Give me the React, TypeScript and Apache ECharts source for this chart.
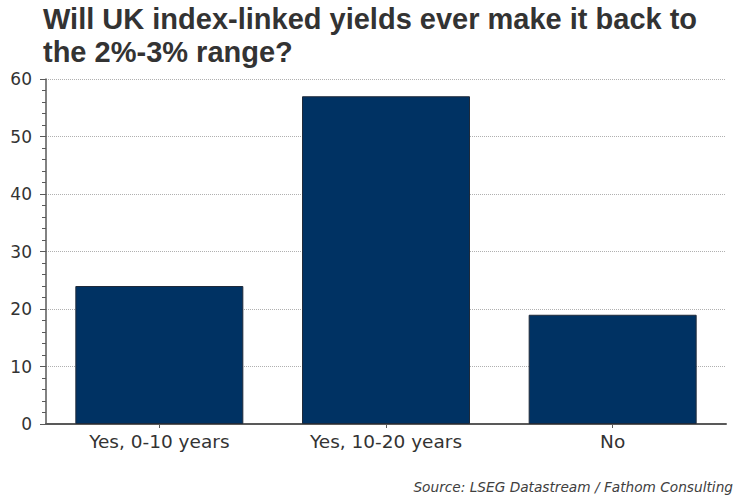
import React, { useEffect, useRef } from "react";
import * as echarts from "echarts";

const categories = ["Yes, 0-10 years", "Yes, 10-20 years", "No"];
const values = [24, 57, 19];
const titleLines = ["Will UK index-linked yields ever make it back to", "the 2%-3% range?"];
const sourceText = "Source: LSEG Datastream / Fathom Consulting";

export default function App() {
  const ref = useRef<HTMLDivElement>(null);
  useEffect(() => {
    if (!ref.current) return;
    const chart = echarts.init(ref.current, null, { renderer: "svg" });
    chart.setOption({
      animation: false,
      backgroundColor: "#ffffff",
      graphic: [
        {
          type: "text",
          left: 43,
          top: 2,
          style: {
            text: titleLines.join("\n"),
            font: "bold 29px 'Liberation Sans', Arial, sans-serif",
            fill: "#333333",
            lineHeight: 33,
          },
        },
        {
          type: "text",
          right: 17,
          top: 480,
          style: {
            text: sourceText,
            font: "italic 13.7px 'DejaVu Sans', sans-serif",
            fill: "#404040",
          },
        },
      ],
      grid: { left: 46, right: 24, top: 79, bottom: 76 },
      xAxis: {
        type: "category",
        data: categories,
        axisLine: { show: true, lineStyle: { color: "#595959", width: 2 } },
        axisTick: { show: true, alignWithLabel: true, length: 4, lineStyle: { color: "#595959" } },
        axisLabel: { color: "#333333", fontSize: 18.5, fontFamily: "'DejaVu Sans', sans-serif", margin: 8 },
      },
      yAxis: {
        type: "value",
        min: 0,
        max: 60,
        interval: 10,
        axisLine: { show: true, lineStyle: { color: "#595959", width: 1.5 } },
        axisTick: { show: true, inside: false, length: 6, lineStyle: { color: "#595959" } },
        minorTick: { show: true, splitNumber: 5, length: 4, lineStyle: { color: "#595959" } },
        splitLine: { show: true, lineStyle: { color: "#b0b0b0", type: "dotted", width: 1 } },
        axisLabel: { color: "#333333", fontSize: 17, fontFamily: "'DejaVu Sans', sans-serif", margin: 14 },
      },
      series: [
        {
          type: "bar",
          data: values,
          barWidth: 168,
          itemStyle: { color: "#003263", borderColor: "#1f2a3a", borderWidth: 1 },
        },
      ],
    });
    return () => chart.dispose();
  }, []);
  return <div ref={ref} style={{ width: 750, height: 500, position: "absolute", left: 0, top: 0 }} />;
}
